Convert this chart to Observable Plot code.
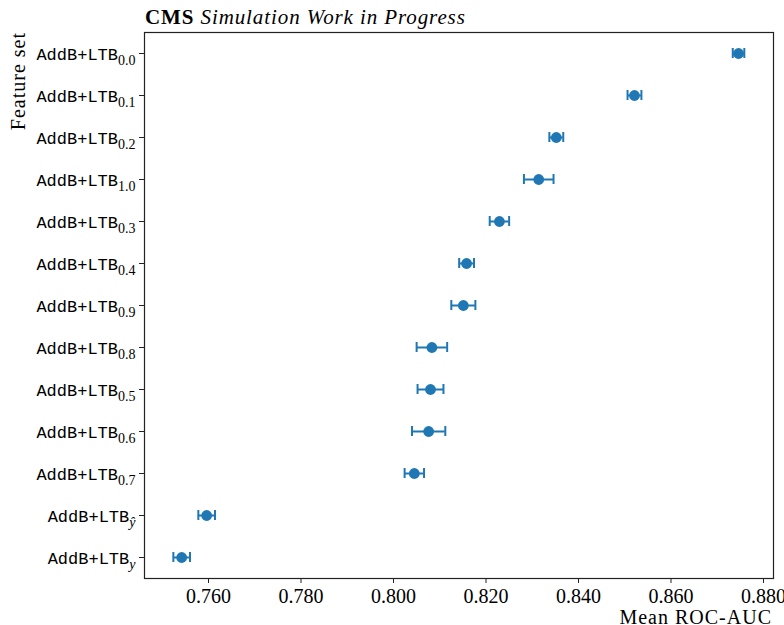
<!DOCTYPE html>
<html>
<head>
<meta charset="utf-8">
<script src="https://cdn.jsdelivr.net/npm/d3@7"></script>
<script src="https://cdn.jsdelivr.net/npm/@observablehq/plot@0.6"></script>
<style>
  html, body { margin: 0; padding: 0; background: #fff; }
  #chart svg { display: block; }
</style>
</head>
<body>
<div id="chart"></div>
<script>
// Feature sets, top to bottom, with the subscript shown after "AddB+LTB"
const featureKeys = ["0.0", "0.1", "0.2", "1.0", "0.3", "0.4", "0.9", "0.8", "0.5", "0.6", "0.7", "ŷ", "y"];
const labelBase = "AddB+LTB";
// Mean ROC-AUC per feature set
const meanAUC = [0.8746, 0.8521, 0.8352, 0.8314, 0.8229, 0.8158, 0.8151, 0.8083, 0.8080, 0.8076, 0.8045, 0.7596, 0.7542];
// Standard deviation (half error-bar width)
const stdAUC = [0.00125, 0.0015, 0.0015, 0.0032, 0.0021, 0.0016, 0.0026, 0.0033, 0.0028, 0.0036, 0.0021, 0.0018, 0.0018];
const xTicks = [0.76, 0.78, 0.80, 0.82, 0.84, 0.86, 0.88];

const rows = featureKeys.map((k, i) => ({
  key: k,
  mean: meanAUC[i],
  lo: meanAUC[i] - stdAUC[i],
  hi: meanAUC[i] + stdAUC[i]
}));

const blue = "#1f77b4";
const serif = "'Liberation Serif', 'DejaVu Serif', serif";
const mono = "'Liberation Mono', 'DejaVu Sans Mono', monospace";

const chart = Plot.plot({
  width: 784,
  height: 625,
  marginLeft: 144,
  marginRight: 11,
  marginTop: 32,
  marginBottom: 47,
  style: { fontFamily: serif, fontSize: "20px", color: "#000", background: "#fff", overflow: "hidden" },
  x: { domain: [0.74616, 0.88216], label: null },
  y: { type: "band", domain: featureKeys, padding: 0, label: null },
  marks: [
    Plot.frame({ stroke: "#222", strokeWidth: 1.2 }),
    Plot.axisX({ ticks: xTicks, tickFormat: d3.format(".3f"), tickSize: 5, tickPadding: 5, label: null, stroke: "#222" }),
    Plot.axisY({ tickSize: 5, tickPadding: 4, label: null, stroke: "#222" }),
    Plot.ruleY(rows, { y: "key", x1: "lo", x2: "hi", stroke: blue, strokeWidth: 2 }),
    Plot.tickX(rows, { x: "lo", y: "key", stroke: blue, strokeWidth: 2, insetTop: 16, insetBottom: 16 }),
    Plot.tickX(rows, { x: "hi", y: "key", stroke: blue, strokeWidth: 2, insetTop: 16, insetBottom: 16 }),
    Plot.dot(rows, { x: "mean", y: "key", r: 5.4, fill: blue, stroke: "none" })
  ]
});

const svg = d3.select(chart);

// Feature-set tick labels: typewriter text with a serif subscript
svg.selectAll('g[aria-label="y-axis tick label"] text').each(function () {
  const t = d3.select(this);
  const key = t.text();
  t.text(null);
  t.append("tspan")
    .style("font-family", mono)
    .style("font-size", "17px")
    .text(labelBase);
  const sub = t.append("tspan")
    .style("font-family", serif)
    .style("font-size", "14px")
    .attr("dy", "5")
    .text(key);
  if (key === "y" || key === "ŷ") sub.style("font-style", "italic");
});

// Header
const title = svg.append("text")
  .attr("x", 145).attr("y", 24)
  .attr("text-anchor", "start")
  .style("font-family", serif).style("font-size", "21px")
  .style("letter-spacing", "0.9px").attr("fill", "#000");
title.append("tspan").style("font-weight", "bold").text("CMS");
title.append("tspan").style("font-style", "italic").text(" Simulation Work in Progress");

// Axis titles
svg.append("text")
  .attr("transform", "translate(25,32) rotate(-90)")
  .attr("text-anchor", "end")
  .style("font-family", serif).style("font-size", "20px")
  .style("letter-spacing", "1px").attr("fill", "#000")
  .text("Feature set");

svg.append("text")
  .attr("x", 772).attr("y", 624)
  .attr("text-anchor", "end")
  .style("font-family", serif).style("font-size", "20px")
  .style("letter-spacing", "1px").attr("fill", "#000")
  .text("Mean ROC-AUC");

document.getElementById("chart").appendChild(chart);
</script>
</body>
</html>
